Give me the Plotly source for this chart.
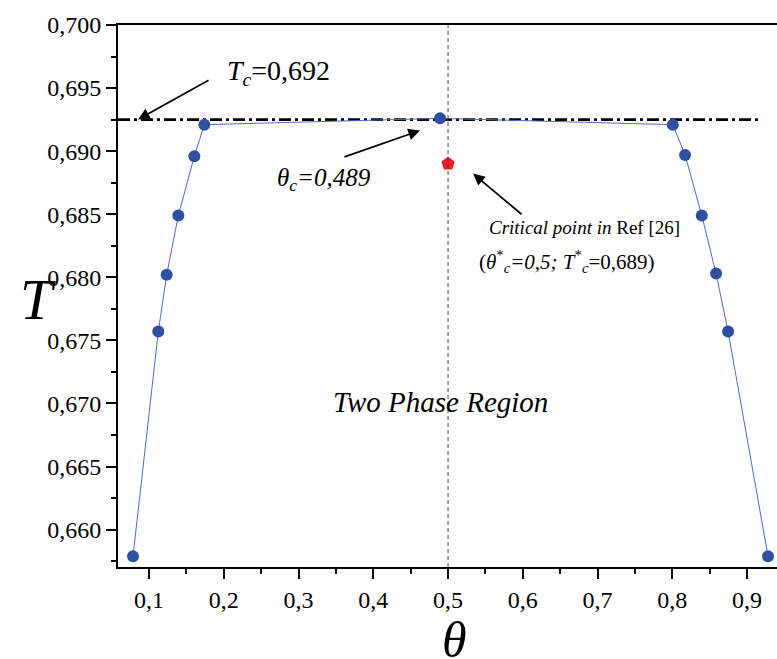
import plotly.graph_objects as go

# ---- data ----
theta_vals = [0.0786, 0.1124, 0.1236, 0.1392, 0.1606, 0.1740, 0.4893,
              0.8006, 0.8170, 0.8394, 0.8585, 0.8746, 0.9280]
T_vals = [0.6579, 0.6757, 0.6802, 0.6849, 0.6896, 0.6921, 0.6926,
          0.6921, 0.6897, 0.6849, 0.6803, 0.6757, 0.6579]
ref_theta = [0.5]
ref_T = [0.6890]
Tc_line_theta = [0.0585, 0.920]
Tc_line_T = [0.6925, 0.6925]

x_range = [0.0585, 0.940]
y_range = [0.65704, 0.700]

FONT = "Liberation Serif"

fig = go.Figure()

fig.add_trace(go.Scatter(
    x=Tc_line_theta, y=Tc_line_T, mode="lines",
    line=dict(color="black", width=2.6, dash="12px,4px,3px,4px"),
    showlegend=False, hoverinfo="skip"))

fig.add_trace(go.Scatter(
    x=theta_vals, y=T_vals, mode="lines+markers",
    line=dict(color="#4a6cc8", width=1),
    marker=dict(color="#2f4fa3", size=12, line=dict(width=0)),
    showlegend=False, cliponaxis=False))

fig.add_trace(go.Scatter(
    x=ref_theta, y=ref_T, mode="markers",
    marker=dict(color="#ee1c24", size=14, symbol="pentagon", line=dict(width=0)),
    showlegend=False))

# vertical dashed reference line at theta = 0.5
fig.add_shape(type="line", x0=ref_theta[0], x1=ref_theta[0], y0=0, y1=1,
              xref="x", yref="paper",
              line=dict(color="#444444", width=1, dash="4px,3px"))

ann_font = dict(family=FONT, color="black")

annotations = [
    dict(x=0.2726, y=0.69625, text="<i>T</i><sub><i>c</i></sub>=0,692",
         showarrow=False, font=dict(size=28, **ann_font)),
    dict(x=0.0853, y=0.69251, ax=0.1816, ay=0.69569, axref="x", ayref="y",
         text="", showarrow=True, arrowhead=2, arrowsize=1.3, arrowwidth=1.8,
         arrowcolor="black"),
    dict(x=0.334, y=0.68775, text="<i>θ</i><sub><i>c</i></sub><i>=0,489</i>",
         showarrow=False, font=dict(size=25, **ann_font)),
    dict(x=0.4625, y=0.69164, ax=0.3595, ay=0.6895, axref="x", ayref="y",
         text="", showarrow=True, arrowhead=2, arrowsize=1.3, arrowwidth=1.8,
         arrowcolor="black"),
    dict(x=0.682, y=0.68394, text="<i>Critical point in</i> Ref [26]",
         showarrow=False, font=dict(size=19, **ann_font)),
    dict(x=0.659, y=0.68124,
         text="(<i>θ</i><sup>*</sup><sub><i>c</i></sub><i>=0,5; T</i><sup>*</sup><sub><i>c</i></sub>=0,689)",
         showarrow=False, font=dict(size=21, **ann_font)),
    dict(x=0.5334, y=0.68822, ax=0.6003, ay=0.6849, axref="x", ayref="y",
         text="", showarrow=True, arrowhead=2, arrowsize=1.3, arrowwidth=1.8,
         arrowcolor="black"),
    dict(x=0.4893, y=0.67014, text="<i>Two Phase Region</i>",
         showarrow=False, font=dict(size=29, **ann_font)),
    dict(x=-0.152, y=0.4935, xref="paper", yref="paper", text="<i>T</i>",
         showarrow=False, font=dict(size=58, **ann_font)),
    dict(x=0.511, y=-0.19, xref="paper", yref="paper", text="<i>θ</i>",
         showarrow=False, font=dict(size=50, **ann_font)),
]

fig.update_layout(
    width=777, height=659,
    margin=dict(l=118, r=0, t=25, b=92, autoexpand=False),
    paper_bgcolor="white", plot_bgcolor="white",
    separators=",.",
    font=dict(family=FONT, color="black", size=24),
    annotations=annotations,
    showlegend=False,
)

fig.update_xaxes(
    range=x_range, showgrid=False, zeroline=False, automargin=False,
    showline=True, linecolor="black", linewidth=2, mirror=True,
    ticks="outside", ticklen=10, tickwidth=2, tickcolor="black",
    tick0=0.1, dtick=0.1, tickformat=".1f",
    tickfont=dict(family=FONT, size=24, color="black"),
    minor=dict(ticks="outside", ticklen=5, tickwidth=2, tickcolor="black",
               dtick=0.05, tick0=0.05, showgrid=False),
)
fig.update_yaxes(
    range=y_range, showgrid=False, zeroline=False, automargin=False,
    showline=True, linecolor="black", linewidth=2, mirror=False,
    ticks="outside", ticklen=10, tickwidth=2, tickcolor="black",
    tick0=0.66, dtick=0.005, tickformat=".3f",
    tickfont=dict(family=FONT, size=24, color="black"),
    minor=dict(ticks="outside", ticklen=5, tickwidth=2, tickcolor="black",
               dtick=0.0025, tick0=0.6575, showgrid=False),
)

fig.write_html(
    "out.html",
    config={"displayModeBar": False},
    post_script="document.body.style.margin='0';document.body.style.padding='0';",
)
